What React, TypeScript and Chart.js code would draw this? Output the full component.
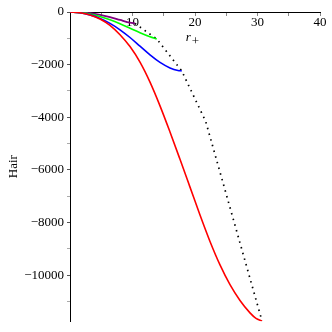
import React, { useEffect, useRef } from "react";
import { Chart, registerables } from "chart.js";

Chart.register(...registerables);

const redX = [0, 1.6, 3.2, 4.8, 6.4, 8.0, 9.6, 11.2, 12.8, 14.4, 16.0, 17.6, 19.2, 20.8, 22.4, 24.0, 25.6, 27.2, 28.8, 29.76, 30.72];
const redY = [0, -28, -113, -263, -507, -863, -1314, -1905, -2665, -3566, -4560, -5598, -6655, -7716, -8720, -9611, -10362, -10963, -11432, -11641, -11740];

const blueX = [0, 1.6, 3.2, 4.8, 6.4, 8.0, 9.6, 11.2, 12.8, 14.4, 16.0, 17.28, 17.87];
const blueY = [0, -28, -109, -244, -432, -676, -969, -1299, -1630, -1915, -2125, -2222, -2237];

const greenX = [0, 1.6, 3.2, 4.8, 6.4, 8.0, 9.6, 11.2, 12.8, 13.87];
const greenY = [0, -22, -75, -169, -295, -445, -614, -788, -942, -1021];

const purpleX = [0, 1.6, 3.2, 4.8, 6.4, 8.0, 9.6, 10.4];
const purpleY = [0, -14, -45, -105, -193, -300, -404, -437];

const endX = [10.4, 13.87, 17.87, 21.7, 30.72];
const endY = [-437, -1021, -2237, -4150, -11740];

const xTicks = [0, 5, 10, 15, 20, 25, 30, 35, 40];
const yTicks = [0, -1000, -2000, -3000, -4000, -5000, -6000, -7000, -8000, -9000, -10000, -11000];

const rLabelPos = { x: 18.5, y: -1090 };

const pts = (xs: number[], ys: number[]) => xs.map((x, i) => ({ x, y: ys[i] }));

const FONT = '"Liberation Serif", "DejaVu Serif", serif';

const labelPlugin = {
  id: "rplus",
  afterDraw(chart: any) {
    const { ctx, scales } = chart;
    const px = scales.x.getPixelForValue(rLabelPos.x);
    const py = scales.y.getPixelForValue(rLabelPos.y);
    ctx.save();
    ctx.fillStyle = "#000";
    ctx.textBaseline = "alphabetic";
    ctx.font = `italic 13px ${FONT}`;
    ctx.fillText("r", px, py);
    ctx.font = `13px ${FONT}`;
    ctx.fillText("+", px + 6, py + 4);
    ctx.restore();
  },
};

export default function App() {
  const ref = useRef<HTMLCanvasElement | null>(null);
  useEffect(() => {
    if (!ref.current) return;
    const line = (data: any, color: string, extra: any = {}) => ({
      data,
      borderColor: color,
      backgroundColor: color,
      borderWidth: 1.6,
      pointRadius: 0,
      showLine: true,
      fill: false,
      cubicInterpolationMode: "monotone",
      ...extra,
    });
    const chart = new Chart(ref.current, {
      type: "scatter",
      data: {
        datasets: [
          line(pts(redX, redY), "#ff0000"),
          line(pts(blueX, blueY), "#0000ff"),
          line(pts(greenX, greenY), "#00ff00"),
          line(pts(purpleX, purpleY), "#800080", { borderWidth: 1.8 }),
          line(pts(endX, endY), "#000000", {
            borderWidth: 1.7,
            borderDash: [1.5, 4.4],
            cubicInterpolationMode: "default",
            tension: 0,
          }),
        ],
      },
      options: {
        responsive: false,
        animation: false,
        devicePixelRatio: 1,
        layout: { padding: { left: 0, top: 12, right: 12, bottom: 7 } },
        plugins: { legend: { display: false }, tooltip: { enabled: false } },
        scales: {
          x: {
            type: "linear",
            position: { y: 0 } as any,
            min: 0,
            max: 40,
            z: 1,
            afterFit: (s: any) => {
              s.height = 0;
            },
            afterBuildTicks: (s: any) => {
              s.ticks = xTicks.map((v) => ({ value: v }));
            },
            border: { display: true, color: "#000", width: 1 },
            grid: {
              display: true,
              drawOnChartArea: false,
              drawTicks: true,
              tickLength: 3,
              tickColor: "#888",
            },
            ticks: {
              padding: 0,
              color: "#000",
              font: { family: FONT, size: 13 },
              maxRotation: 0,
              autoSkip: false,
              callback: (v: any) => (v !== 0 && v % 10 === 0 ? String(v) : ""),
            },
          },
          y: {
            type: "linear",
            position: "left",
            min: -11750,
            max: 0,
            afterFit: (s: any) => {
              s.width = 70;
            },
            afterBuildTicks: (s: any) => {
              s.ticks = yTicks.map((v) => ({ value: v }));
            },
            border: { display: true, color: "#000", width: 1 },
            grid: {
              display: true,
              drawOnChartArea: false,
              drawTicks: true,
              tickLength: 3,
              tickColor: (c: any) => (c.tick && c.tick.value % 2000 === 0 ? "#555" : "#aaa"),
            },
            ticks: {
              padding: 3,
              color: "#000",
              font: { family: FONT, size: 13 },
              autoSkip: false,
              callback: (v: any) =>
                v % 2000 === 0 ? (v < 0 ? "\u2212" + Math.abs(v) : String(v)) : "",
            },
            title: {
              display: true,
              text: "Hair",
              color: "#000",
              font: { family: FONT, size: 13 },
              padding: { top: 5.5, bottom: 0 },
            },
          },
        },
      },
      plugins: [labelPlugin],
    });
    return () => chart.destroy();
  }, []);
  return (
    <div style={{ position: "absolute", left: 0, top: 0, width: 332, height: 332 }}>
      <canvas ref={ref} width={332} height={332} style={{ display: "block" }} />
    </div>
  );
}
